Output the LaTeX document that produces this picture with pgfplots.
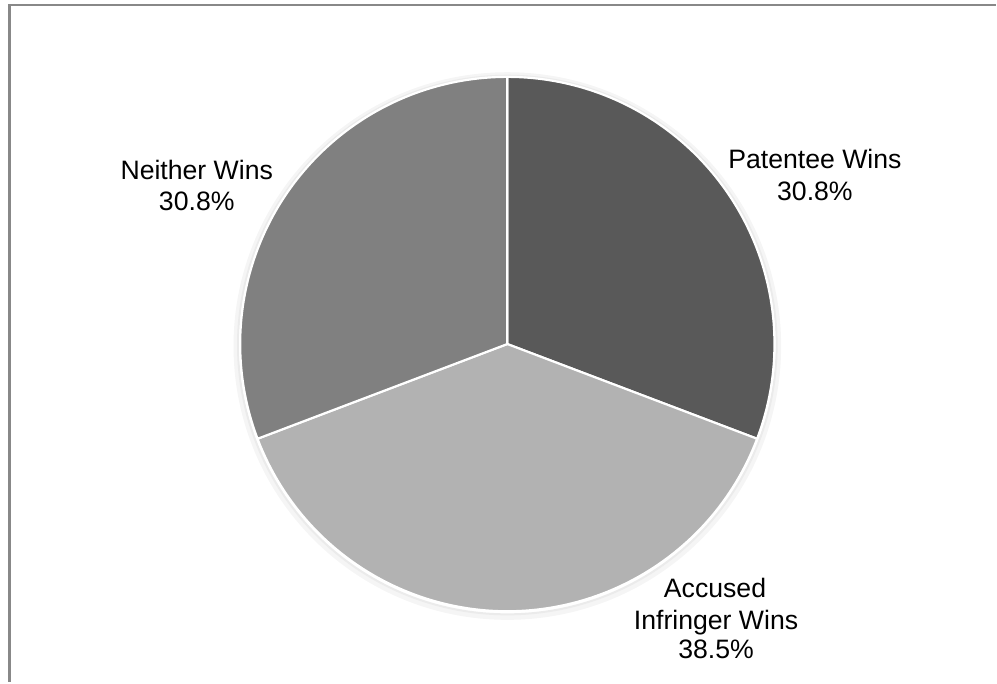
\documentclass[border=0pt]{standalone}
\usepackage{pgfplots}
\pgfplotsset{compat=1.18}
\usepackage{pgfplotstable}
\usepackage{fontspec}
\setmainfont{Liberation Sans}

\definecolor{patentee}{HTML}{595959}
\definecolor{accused}{HTML}{B2B2B2}
\definecolor{neither}{HTML}{808080}
\definecolor{framegray}{HTML}{888888}

\tikzset{lab/.style={font=\fontsize{16}{19}\selectfont, inner sep=0pt, anchor=base}}

% Share of outcomes (percent)
\pgfplotstableread{
outcome value
Patentee 30.8
Accused 38.5
Neither 30.8
}\outcomes

\begin{document}
\begin{tikzpicture}
\pgfplotstablegetelem{0}{value}\of\outcomes \let\vP\pgfplotsretval
\pgfplotstablegetelem{1}{value}\of\outcomes \let\vA\pgfplotsretval
\pgfplotstablegetelem{2}{value}\of\outcomes \let\vN\pgfplotsretval
\pgfmathsetmacro\total{\vP+\vA+\vN}
% slices run clockwise from 12 o'clock
\pgfmathsetmacro\aP{90-360*\vP/\total}
\pgfmathsetmacro\aA{\aP-360*\vA/\total}
\def\R{160.5pt}
\def\pct#1{\pgfmathprintnumber[fixed,fixed zerofill,precision=1,assume math mode=true]{#1}\%}
\begin{axis}[
  x=0.6pt, y=0.6pt, scale only axis,
  xmin=0, xmax=997, ymin=0, ymax=683,
  hide axis, clip=false,
]
  \path (axis cs:0,0) rectangle (axis cs:997,683);
  % chart area border
  \draw[framegray, line width=1.6pt] (axis cs:997,678) -- (axis cs:9.5,678) -- (axis cs:9.5,0);
  % soft shadow round the pie
  \draw[black!4, line width=3pt] (axis cs:508,336.5) circle[radius=163pt];
  \draw[black!8, line width=1.2pt] (axis cs:508,337.5) circle[radius=161.8pt];
  % slices
  \filldraw[fill=patentee, draw=white, line width=1.3pt, line join=round]
    (axis cs:508,338.5) -- ++(90:\R) arc[start angle=90, end angle=\aP, radius=\R] -- cycle;
  \filldraw[fill=accused, draw=white, line width=1.3pt, line join=round]
    (axis cs:508,338.5) -- ++(\aP:\R) arc[start angle=\aP, end angle=\aA, radius=\R] -- cycle;
  \filldraw[fill=neither, draw=white, line width=1.3pt, line join=round]
    (axis cs:508,338.5) -- ++(\aA:\R) arc[start angle=\aA, end angle=-270, radius=\R] -- cycle;
  % labels
  \node[lab] at (axis cs:816,514) {Patentee Wins};
  \node[lab] at (axis cs:816,482) {\pct{\vP}};
  \node[lab] at (axis cs:197,503) {Neither Wins};
  \node[lab] at (axis cs:197,472) {\pct{\vN}};
  \node[lab] at (axis cs:716,85) {Accused};
  \node[lab] at (axis cs:717,53) {Infringer Wins};
  \node[lab] at (axis cs:717,24) {\pct{\vA}};
\end{axis}
\end{tikzpicture}
\end{document}
